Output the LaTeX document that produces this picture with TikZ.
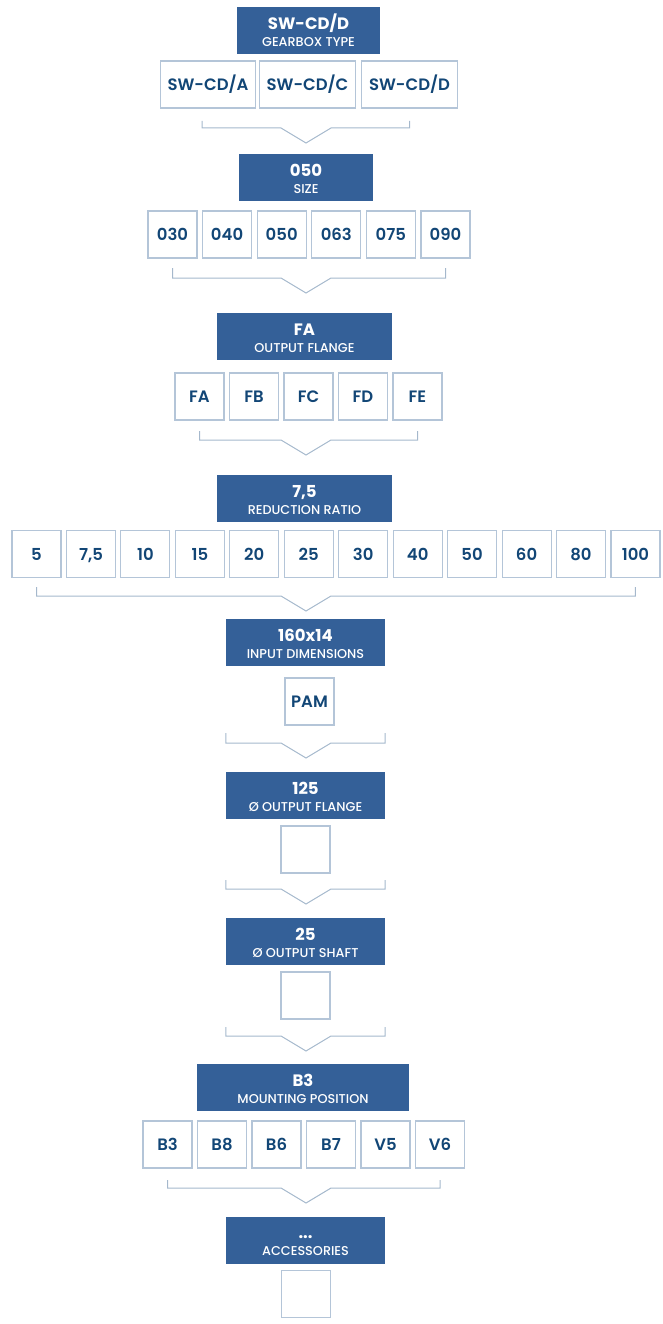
\documentclass[tikz,border=0pt]{standalone}
\usepackage{fontspec}
\setmainfont{Poppins}[UprightFont={* Medium}, BoldFont={* SemiBold}]
\newfontfamily\ttlfont{Poppins}[UprightFont={* Bold}]
\newfontfamily\optfont{Poppins}[UprightFont={* SemiBold}]
\usetikzlibrary{calc}
\definecolor{hdrblue}{RGB}{52,96,152}
\definecolor{txtblue}{RGB}{18,70,118}
\definecolor{boxline}{RGB}{180,197,216}
\definecolor{brkline}{RGB}{165,184,204}
\tikzset{
  hdr/.style={fill=hdrblue, draw=none, inner sep=0pt, minimum height=47pt},
  ttl/.style={anchor=base, text=white, inner sep=0pt, font=\ttlfont\fontsize{16.5}{18}\selectfont},
  sub/.style={anchor=base, text=white, inner sep=0pt, font=\fontsize{12.8}{14}\selectfont},
  opt/.style={draw=boxline, line width=1.1pt, fill=white, inner sep=0pt, minimum width=49pt, minimum height=47pt,
     text=txtblue, text height=12pt, text depth=0pt, font=\optfont\fontsize{16.5}{18}\selectfont},
  brk/.style={draw=brkline, line width=1pt, line join=miter}
}
\newcommand\hdrtext[3]{%
  \node[ttl] at ($(#1.north)+(0,22.5)$) {#2};
  \node[sub] at ($(#1.north)+(0,39.5)$) {#3};}
\newcommand\brkt[4]{%
  \draw[brk] (#1 |- 0,#3) -- (#1 |- 0,#4) -- (281,#4) -- (306,{#4+15}) -- (331,#4) -- (#2 |- 0,#4) -- (#2 |- 0,#3);}
\begin{document}
\begin{tikzpicture}[x=1pt,y=-1pt]
\useasboundingbox (0,0) rectangle (663,1324);
% ---- 1 gearbox type
\node[hdr, minimum width=143pt] (h1) at (308.5,30.5) {};
\hdrtext{h1}{SW-CD/D}{GEARBOX TYPE}
\node[opt, minimum width=95.5pt] (r1a) at (208,84.5) {SW-CD/A};
\node[opt, minimum width=95.5pt] (r1b) at (307.5,84.5) {SW-CD/C};
\node[opt, minimum width=95.5pt] (r1c) at (409.5,84.5) {SW-CD/D};
\draw[brk] (202,121) -- (202,128) -- (281,128) -- (306,143) -- (331,128) -- (r1c |- 0,128) -- (r1c |- 0,121);
% ---- 2 size
\node[hdr, minimum width=134pt] (h2) at (306,177.5) {};
\hdrtext{h2}{050}{SIZE}
\foreach \t [count=\i from 0] in {030,040,050,063,075,090}
  \node[opt] (r2n\i) at ({172.5+54.6*\i},234.5) {\t};
\brkt{r2n0}{r2n5}{268}{278}
% ---- 3 output flange
\node[hdr, minimum width=175pt] (h3) at (304.5,336.5) {};
\hdrtext{h3}{FA}{OUTPUT FLANGE}
\foreach \t [count=\i from 0] in {FA,FB,FC,FD,FE}
  \node[opt] (r3n\i) at ({199.5+54.5*\i},396.5) {\t};
\brkt{r3n0}{r3n4}{431}{440}
% ---- 4 reduction ratio
\node[hdr, minimum width=175pt] (h4) at (304.5,498.5) {};
\hdrtext{h4}{7,5}{REDUCTION RATIO}
\foreach \t [count=\i from 0] in {5,{7,5},10,15,20,25,30,40,50,60,80,100}
  \node[opt] (r4n\i) at ({36.5+54.45*\i},554) {\t};
\brkt{r4n0}{r4n11}{587}{596}
% ---- 5 input dimensions
\node[hdr, minimum width=159pt] (h5) at (305.5,642.5) {};
\hdrtext{h5}{160x14}{INPUT DIMENSIONS}
\node[opt] (r5) at (309.5,701.5) {PAM};
\brkt{h5.west}{h5.east}{733}{743}
% ---- 6 output flange diameter
\node[hdr, minimum width=159pt] (h6) at (305.5,795.5) {};
\hdrtext{h6}{125}{Ø OUTPUT FLANGE}
\node[opt] (r6) at (305.5,849.5) {};
\brkt{h6.west}{h6.east}{880}{889}
% ---- 7 output shaft
\node[hdr, minimum width=159pt] (h7) at (305.5,941.5) {};
\hdrtext{h7}{25}{Ø OUTPUT SHAFT}
\node[opt] (r7) at (305.5,995.5) {};
\brkt{h7.west}{h7.east}{1027}{1036}
% ---- 8 mounting position
\node[hdr, minimum width=212pt] (h8) at (303,1087.5) {};
\hdrtext{h8}{B3}{MOUNTING POSITION}
\foreach \t [count=\i from 0] in {B3,B8,B6,B7,V5,V6}
  \node[opt] (r8n\i) at ({167.5+54.5*\i},1144.5) {\t};
\brkt{r8n0}{r8n5}{1180}{1188}
% ---- 9 accessories
\node[hdr, minimum width=159pt] (h9) at (305.5,1240) {};
\hdrtext{h9}{...}{ACCESSORIES}
\node[opt] (r9) at (306,1294) {};
\end{tikzpicture}
\end{document}
